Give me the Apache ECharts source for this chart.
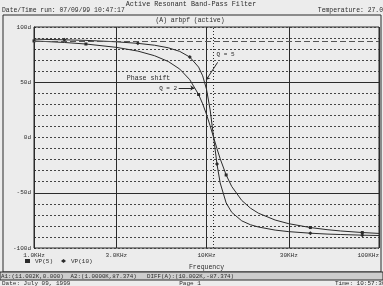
<!DOCTYPE html>
<html><head><meta charset="utf-8">
<script src="https://cdn.jsdelivr.net/npm/echarts@6/dist/echarts.min.js"></script>
<style>html,body{margin:0;padding:0;background:#ececec}#c{width:383px;height:286px}</style>
</head><body><div id="c"></div>
<script>
// Frequencies (Hz) and phase (degrees)
const freqs = [1000,1500,2000,3000,4000,5000,6000,7000,8000,9000,9500,10000,10500,11000,11500,12000,13000,14000,16000,18000,20000,25000,30000,40000,50000,60000,80000,100000];
const phaseQ2 = [87.4,86.0,84.6,81.6,78.2,74.0,68.8,61.9,52.3,38.9,30.5,20.9,10.5,0,-10.1,-19.2,-33.9,-44.3,-56.9,-64.0,-68.5,-74.7,-78.0,-81.5,-83.4,-84.6,-86.0,-86.8];
const phaseQ5 = [89.0,88.4,87.9,86.6,85.2,83.5,81.2,77.9,72.8,63.7,55.8,43.7,25.0,0,-24.0,-41.1,-59.2,-67.7,-75.4,-79.0,-81.0,-83.8,-85.2,-86.6,-87.4,-87.8,-88.4,-88.7];
const markersQ2 = [1000,2000,9000,13000,40000,80000];
const markersQ5 = [1500,4000,8000,11500,40000,80000];
const seriesNames = ['VP(5)','VP(10)'];
const xTickLabels = {1000:'1.0KHz',3000:'3.0KHz',10000:'10KHz',30000:'30KHz',100000:'100KHz'};
const yTickLabels = {'100':'100d','50':'50d','0':'0d','-50':'-50d','-100':'-100d'};
const cursorA1 = [11002, 0.000];
const cursorA2 = [1000, 87.374];

const font = "'Liberation Mono','DejaVu Sans Mono',monospace";
const ink = '#2b2b2b';
const chart = echarts.init(document.getElementById('c'));

function build(ph, marks, sym){
  return freqs.map((f,i)=>({value:[f,ph[i]], symbol: marks.includes(f)? sym : 'none'}));
}
const solid = {type:'solid', color:ink, width:1};
const xLab = t => ({show:true, position:'start', formatter:t, fontSize:6, color:ink, fontFamily:font, distance:4});

chart.setOption({
  backgroundColor:'#ececec',
  animation:false,
  textStyle:{fontFamily:font},
  grid:{left:34, right:4, top:27, bottom:38, show:true, borderColor:ink, borderWidth:1},
  xAxis:{type:'log', logBase:10, min:1000, max:100000,
    axisLine:{show:false}, axisTick:{show:false},
    axisLabel:{formatter:v=>xTickLabels[Math.round(v)]||'', fontSize:6, color:ink, margin:4, fontFamily:font, alignMaxLabel:'right'},
    splitLine:{show:true, lineStyle:solid},
    name:'Frequency', nameLocation:'middle', nameGap:16,
    nameTextStyle:{fontSize:6.5, color:ink, fontFamily:font}},
  yAxis:{type:'value', min:-100, max:100, interval:10,
    axisLine:{show:true, lineStyle:{color:ink}},
    axisTick:{show:true, inside:true, length:2, lineStyle:{color:ink}},
    axisLabel:{formatter:v=>yTickLabels[String(v)]||'', fontSize:6, color:ink, margin:3, fontFamily:font},
    splitLine:{show:true, lineStyle:{color:'#444', type:[2,2], width:1}}},
  legend:{left:25, top:258, itemWidth:5, itemHeight:4, itemGap:8, padding:0,
    textStyle:{fontSize:6, color:ink, fontFamily:font},
    data:[{name:seriesNames[0], icon:'rect'},{name:seriesNames[1], icon:'diamond'}]},
  series:[
    {name:seriesNames[0], type:'line', data:build(phaseQ2, markersQ2, 'rect'), symbolSize:3,
     lineStyle:{color:ink, width:1}, itemStyle:{color:ink}, silent:true,
     markLine:{silent:true, symbol:'none', animation:false, label:{show:false},
       data:[
         {xAxis:3000, lineStyle:solid, label:xLab('3.0KHz')},
         {xAxis:30000, lineStyle:solid, label:xLab('30KHz')},
         {yAxis:50, lineStyle:solid},
         {yAxis:-50, lineStyle:solid},
         {xAxis:cursorA1[0], lineStyle:{type:[1,2], color:ink, width:1}},
         {yAxis:cursorA2[1], lineStyle:{type:[6,3], color:'#555', width:1}},
         [{coord:[6900,44.8], symbol:'none'},{coord:[8500,44.8], symbol:'arrow', symbolSize:4, lineStyle:solid}],
         [{coord:[11600,68], symbol:'none'},{coord:[9950,52], symbol:'arrow', symbolSize:4, lineStyle:solid}]
       ]}},
    {name:seriesNames[1], type:'line', data:build(phaseQ5, markersQ5, 'diamond'), symbolSize:4,
     lineStyle:{color:ink, width:1}, itemStyle:{color:ink}, silent:true}
  ]
});

function px(p){ return chart.convertToPixel({gridIndex:0}, p); }
const t = (x,y,text,align,size)=>({type:'text', x:x, y:y, style:{text:text, fill:ink, font:(size||6.5)+'px '+font, textAlign:align||'left', textVerticalAlign:'middle'}});
const pQ5 = px([12900,75]);
const pQ2 = px([6850,44.8]);
const pPS = px([3450,54]);
chart.setOption({graphic:[
  t(191,4,'Active Resonant Band-Pass Filter','center',6.8),
  t(2,10,'Date/Time run: 07/09/99 10:47:17','left',6.4),
  t(383,10,'Temperature: 27.0','right',6.4),
  {type:'rect', shape:{x:3,y:15,width:378,height:257}, style:{fill:null, stroke:ink, lineWidth:1}},
  t(190,20,'(A) arbpf (active)','center',6.4),
  t(pPS[0],pPS[1],'Phase shift','left',6.6),
  t(pQ5[0],pQ5[1],'Q = 5','center',6),
  t(pQ2[0]-1,pQ2[1],'Q = 2','right',6),
  {type:'rect', shape:{x:0,y:272,width:383,height:8}, style:{fill:'#cdcdcd', stroke:ink, lineWidth:1}},
  t(1,276,'A1:(11.002K,0.000)  A2:(1.0000K,87.374)   DIFF(A):(10.002K,-87.374)','left',5.8),
  t(2,283,'Date: July 09, 1999','left',6),
  t(190,283,'Page 1','center',6),
  t(335,283,'Time: 10:57:36','left',6)
]});
</script></body></html>
